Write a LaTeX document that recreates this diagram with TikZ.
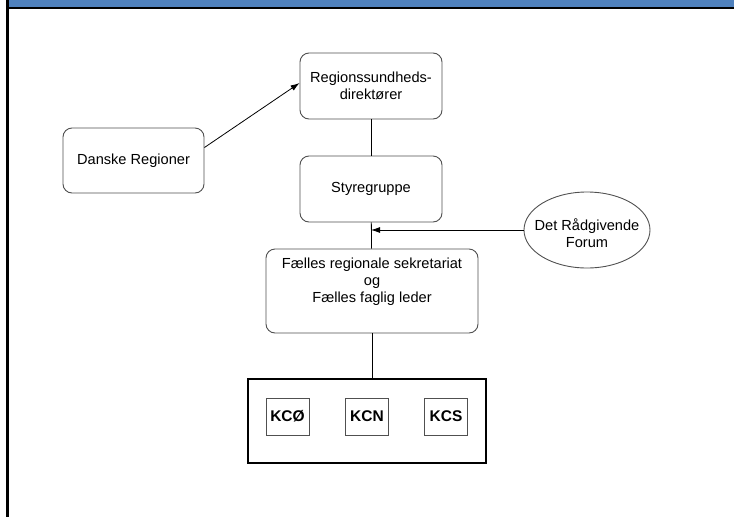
\documentclass[tikz,border=0pt]{standalone}
\usepackage{fontspec}
\setmainfont{Liberation Sans}
\usepackage{xcolor}
\usetikzlibrary{positioning,shapes.geometric,arrows.meta}
\definecolor{bandblue}{HTML}{4F81BD}
\definecolor{boxgray}{HTML}{505050}
\tikzset{
  roundbox/.style={draw=boxgray, line width=0.9pt, rounded corners=9pt, fill=white, align=center, inner sep=0pt},
  kcbox/.style={draw=boxgray, line width=0.9pt, minimum width=43pt, minimum height=37pt, inner sep=0pt, font=\fontsize{15.5}{17}\selectfont\bfseries},
  link/.style={draw=black, line width=0.8pt},
  tip/.style={-{Latex[length=9pt,width=6pt]}}
}
\begin{document}
\begin{tikzpicture}[x=1pt,y=-1pt,font=\fontsize{14.6}{17}\selectfont]
\useasboundingbox (0,0) rectangle (734,517);
% frame and header band
\fill[bandblue] (8,0) rectangle (734,7);
\fill[black] (6,7) rectangle (734,9);
\fill[black] (6,0) rectangle (8.5,517);
% boxes
\node[roundbox, minimum width=142pt, minimum height=66pt] (regdir) at (371,86) {Regionssundheds-\\direktører};
\node[roundbox, minimum width=142pt, minimum height=66pt] (styre) at (371,189) {Styregruppe};
\node[roundbox, minimum width=141pt, minimum height=65pt] (danske) at (133.5,160.5) {Danske Regioner};
\node[roundbox, minimum width=212pt, minimum height=84pt] (faelles) at (372,291) {};
\node[align=center, below=9pt of faelles.north, inner sep=0pt] (faellestxt) {Fælles regionale sekretariat\\og\\Fælles faglig leder};
\node[draw=boxgray, line width=0.9pt, ellipse, minimum width=126pt, minimum height=76pt, inner sep=0pt] (forum) at (587,230) {};
\node[align=center, inner sep=0pt] (forumtxt) at ([yshift=-3pt]forum.center) {Det Rådgivende\\Forum};
\node[draw=black, line width=1.4pt, minimum width=238pt, minimum height=84pt, inner sep=0pt] (centre) at (367,421) {};
\node[kcbox] (kco) at (287.5,416.5) {KCØ};
\node[kcbox] (kcn) at (367,416.5) {KCN};
\node[kcbox] (kcs) at (446,416.5) {KCS};
% connectors
\coordinate (join) at (371,230);
\draw[link] (regdir) -- (styre);
\draw[link] (styre) -- (faelles);
\draw[link] (faelles.south) -- (faelles.south |- centre.north);
\draw[link, tip] (forum.west) -- (join);
\draw[link, tip] ([yshift=13pt]danske.east) -- ([yshift=3pt]regdir.west);
\end{tikzpicture}
\end{document}
